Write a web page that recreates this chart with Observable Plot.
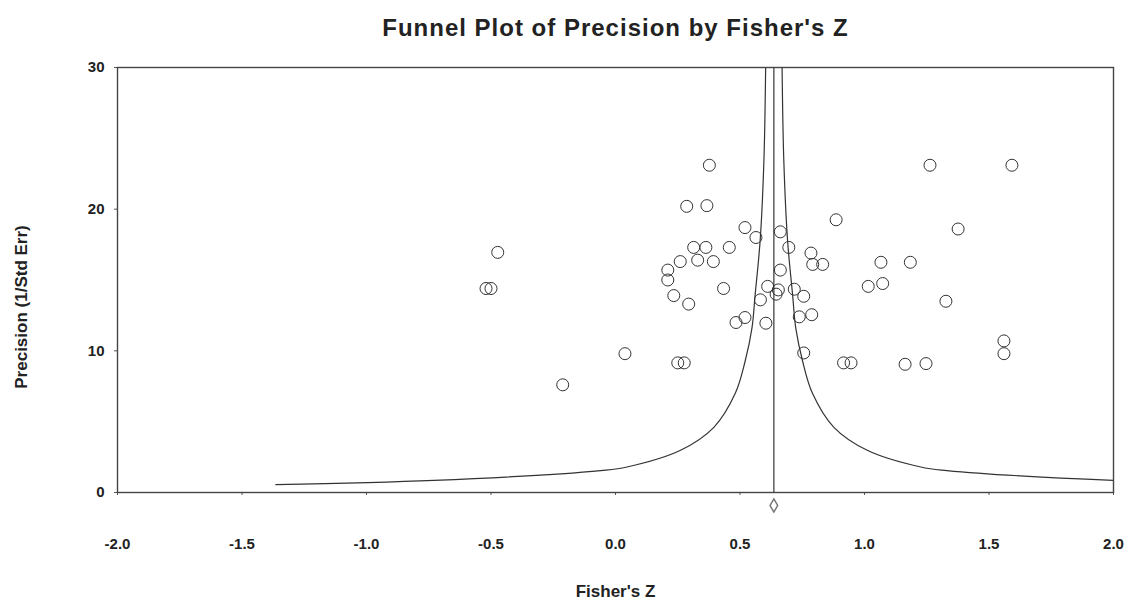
<!DOCTYPE html>
<html>
<head>
<meta charset="utf-8">
<script src="https://cdn.jsdelivr.net/npm/d3@7"></script>
<script src="https://cdn.jsdelivr.net/npm/@observablehq/plot@0.6"></script>
<style>
  html, body { margin: 0; padding: 0; background: #fff; }
  #chart svg { display: block; }
</style>
</head>
<body>
<div id="chart"></div>
<script>
// ---- data ----
const titleText = "Funnel Plot of Precision by Fisher's Z";
const xLabel = "Fisher's Z";
const yLabel = "Precision (1/Std Err)";
const xTicks = [-2, -1.5, -1, -0.5, 0, 0.5, 1, 1.5, 2];
const yTicks = [0, 10, 20, 30];

const fisherZ = [0.377, 0.286, 0.367, 0.520, 0.564, 0.662, 0.696, 0.457, 0.314, 0.363,
  0.330, 0.393, 0.260, 0.210, 0.210, 0.434, 0.234, 0.294, 0.785, 0.792,
  0.832, 0.886, 0.662, 0.611, 0.654, 0.645, 0.718, 0.756, 0.582, 0.484,
  0.520, 0.604, 0.738, 0.788, 0.756, 0.038, 0.250, 0.276, 0.916, 0.946,
  1.163, 1.066, 1.184, 1.015, 1.073, -0.473, -0.52, -0.50, -0.212, 1.263,
  1.592, 1.376, 1.327, 1.560, 1.560, 1.247];
const precision = [23.1, 20.2, 20.25, 18.7, 18.0, 18.4, 17.3, 17.3, 17.3, 17.3,
  16.4, 16.3, 16.3, 15.7, 15.0, 14.4, 13.9, 13.3, 16.9, 16.1,
  16.1, 19.25, 15.7, 14.55, 14.3, 14.0, 14.35, 13.85, 13.6, 12.0,
  12.35, 11.95, 12.4, 12.55, 9.85, 9.8, 9.15, 9.15, 9.15, 9.15,
  9.05, 16.25, 16.25, 14.55, 14.75, 16.95, 14.4, 14.4, 7.6, 23.1,
  23.1, 18.6, 13.5, 10.7, 9.8, 9.1];

const meanZ = 0.636;
// funnel limits: half-width (in Z units) at each precision
const funnelPrecision = [0.56, 0.85, 1.55, 1.8, 2.96, 4.6, 7.0, 9.3, 11.6, 14.0, 17.8, 23.4, 30];
const funnelHalf = [2.0, 1.365, 0.695, 0.59, 0.377, 0.241, 0.155, 0.115, 0.088, 0.075, 0.055, 0.040, 0.033];

// ---- derived tables ----
const points = fisherZ.map((z, i) => ({z, p: precision[i]}));
const leftFunnel = funnelPrecision.map((p, i) => ({z: meanZ - funnelHalf[i], p}));
const rightFunnel = funnelPrecision.map((p, i) => ({z: meanZ + funnelHalf[i], p}));

const font = "'Liberation Sans', Arial, Helvetica, sans-serif";

const chart = Plot.plot({
  width: 1126,
  height: 600,
  marginLeft: 117,
  marginRight: 13,
  marginTop: 67,
  marginBottom: 108,
  style: {fontFamily: font, color: "#222", background: "#fff"},
  x: {domain: [-2, 2]},
  y: {domain: [0, 30]},
  marks: [
    Plot.axisX(xTicks, {
      tickSize: 3, tickPadding: 43, tickFormat: d => d.toFixed(1),
      fontSize: 15, fontWeight: "bold", label: null, stroke: "#555"
    }),
    Plot.axisY(yTicks, {
      tickSize: 3, tickPadding: 10, fontSize: 15, fontWeight: "bold",
      label: null, stroke: "#555"
    }),
    Plot.line(leftFunnel, {x: "z", y: "p", curve: "catmull-rom", stroke: "#333", strokeWidth: 1.2, clip: true}),
    Plot.line(rightFunnel, {x: "z", y: "p", curve: "catmull-rom", stroke: "#333", strokeWidth: 1.2, clip: true}),
    Plot.ruleX([meanZ], {y1: 0, y2: 30, stroke: "#444", strokeWidth: 1.3}),
    Plot.dot(points, {x: "z", y: "p", r: 6, stroke: "#333", strokeWidth: 1, fill: "none"}),
    Plot.dot([meanZ], {x: d => d, y: () => 0, dy: 13, symbol: "diamond", r: 4, stroke: "#777", fill: "none"}),
    Plot.frame({stroke: "#444", strokeWidth: 1.4}),
    Plot.text([titleText], {frameAnchor: "top", dy: -49, fontSize: 24, fontWeight: "bold", fill: "#222"}),
    Plot.text([xLabel], {frameAnchor: "bottom", dy: 104, fontSize: 17, fontWeight: "bold", fill: "#222"}),
    Plot.text([yLabel], {frameAnchor: "left", textAnchor: "middle", dx: -96, dy: 27, rotate: -90, fontSize: 17, fontWeight: "bold", fill: "#222"})
  ]
});
d3.select(chart).selectAll("text")
  .filter(function() { return this.textContent === titleText; })
  .attr("letter-spacing", "1px");
document.getElementById("chart").appendChild(chart);
</script>
</body>
</html>
